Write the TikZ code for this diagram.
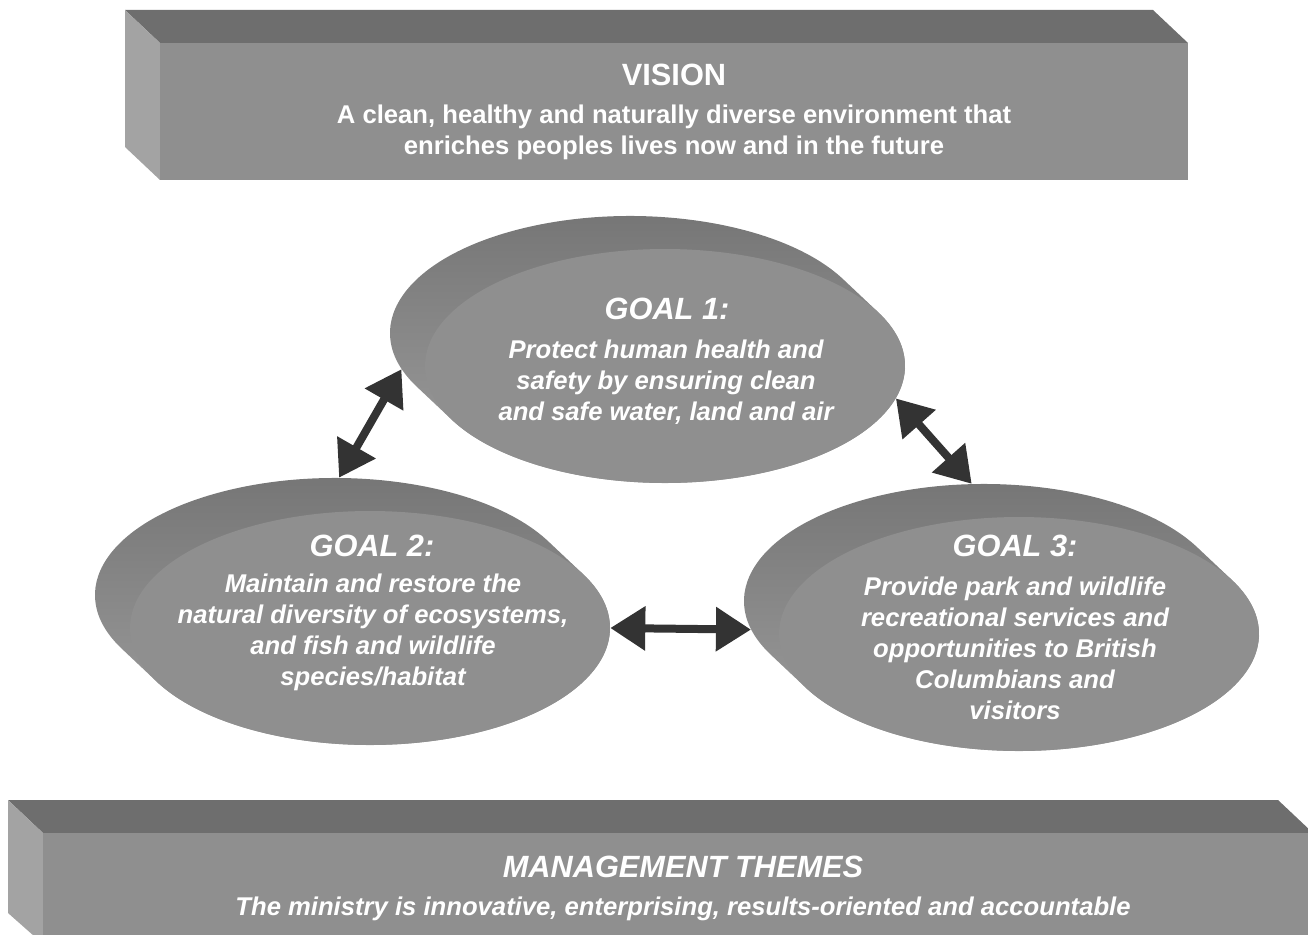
\documentclass[tikz,border=0pt]{standalone}
\usepackage{fontspec}
\setmainfont{Liberation Sans}
\usetikzlibrary{shapes.geometric,arrows.meta}
\definecolor{frontgray}{RGB}{143,143,143}
\definecolor{topgray}{RGB}{110,110,110}
\definecolor{sidegray}{RGB}{163,163,163}
\definecolor{rimdark}{RGB}{116,116,116}
\definecolor{rimlight}{RGB}{160,160,160}
\definecolor{arrowgray}{RGB}{51,51,51}

\begin{document}
\begin{tikzpicture}[x=0.02cm,y=0.02cm,
    disc/.style={ellipse,inner sep=0pt,minimum width=9.6cm,minimum height=4.68cm},
    headtxt/.style={text=white,font=\fontsize{17.5}{21}\selectfont\bfseries#1},
    headtxt/.default={},
    bodytxt/.style={text=white,align=center,font=\fontsize{14.6}{17.6}\selectfont\bfseries#1},
    bodytxt/.default={},
    link/.style={draw=arrowgray,line width=0.16cm,>={Triangle[length=0.7cm,width=0.85cm]},<->}]
    \clip (0,0) rectangle (1308,934);

    % vision bar
    \fill[topgray] (125,924) -- (1153,924) -- (1188,891) -- (160,891) -- cycle;
    \fill[sidegray] (125,924) -- (160,891) -- (160,754) -- (125,787) -- cycle;
    \fill[frontgray] (160,891) rectangle (1188,754);

    % themes bar
    \fill[topgray] (8,134) -- (1278,134) -- (1313,101) -- (43,101) -- cycle;
    \fill[sidegray] (8,134) -- (43,101) -- (43,-10) -- (8,21) -- cycle;
    \fill[frontgray] (43,101) rectangle (1320,-10);

    % goal discs
    \foreach \g/\x/\y in {goal1/665/568,goal2/370/306,goal3/1019/300}{
        \shade[top color=rimdark,bottom color=rimlight]
            (\x,\y) ++(207.35:240 and 117)
            arc[start angle=207.35,end angle=387.35,x radius=240,y radius=117]
            -- ++(-35,33)
            arc[start angle=27.35,end angle=207.35,x radius=240,y radius=117] -- cycle;
        \node[disc] (\g-back) at ({\x-35},{\y+33}) {};
        \node[disc,fill=frontgray] (\g-front) at (\x,\y) {};
    }

    \node[headtxt] (visiontitle) at (674,859) {VISION};
    \node[bodytxt] (visiontext) at (674,802) {A clean, healthy and naturally diverse environment that\\enriches peoples lives now and in the future};

    \node[headtxt=\itshape] (goal1title) at (667,625) {GOAL 1:};
    \node[bodytxt=\itshape] (goal1text) at (666,552) {Protect human health and\\safety by ensuring clean\\and safe water, land and air};

    \node[headtxt=\itshape] (goal2title) at (372,388) {GOAL 2:};
    \node[bodytxt=\itshape] (goal2text) at (373,302) {Maintain and restore the\\natural diversity of ecosystems,\\and fish and wildlife\\species/habitat};

    \node[headtxt=\itshape] (goal3title) at (1015,388) {GOAL 3:};
    \node[bodytxt=\itshape] (goal3text) at (1015,286) {Provide park and wildlife\\recreational services and\\opportunities to British\\Columbians and\\visitors};

    \node[headtxt=\itshape] (themestitle) at (683,67) {MANAGEMENT THEMES};
    \node[bodytxt=\itshape] (themestext) at (683,25) {The ministry is innovative, enterprising, results-oriented and accountable};

    \draw[link] (goal2-back.88) -- (goal1-back.189);
    \draw[link] (goal1-front.352) -- (goal3-back.96);
    \draw[link] (goal2-front.east) -- (goal3-back.187);
\end{tikzpicture}
\end{document}
